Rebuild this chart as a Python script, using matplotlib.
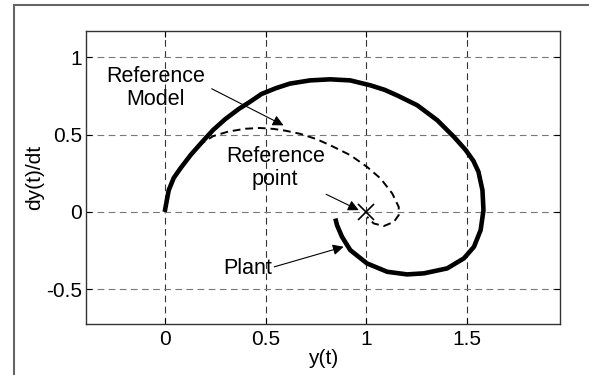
import matplotlib
matplotlib.use("Agg")
import matplotlib.pyplot as plt
from matplotlib.patches import Rectangle

plt.rcParams['font.family'] = ['Liberation Sans', 'DejaVu Sans']

# Plant trajectory (thick solid line)
plant_x = [0.0, 0.01, 0.02, 0.045, 0.08, 0.13, 0.184, 0.24, 0.30, 0.366, 0.42,
           0.48, 0.55, 0.62, 0.72, 0.82, 0.92, 1.02, 1.09, 1.152, 1.252, 1.351,
           1.434, 1.492, 1.53, 1.555, 1.575, 1.58, 1.566, 1.533, 1.483, 1.40,
           1.285, 1.202, 1.103, 1.003, 0.92, 0.879, 0.854, 0.846]
plant_y = [0.0, 0.07, 0.14, 0.22, 0.285, 0.37, 0.45, 0.53, 0.60, 0.665, 0.71,
           0.763, 0.80, 0.83, 0.851, 0.858, 0.851, 0.819, 0.79, 0.754, 0.69, 0.593,
           0.485, 0.40, 0.33, 0.26, 0.14, 0.011, -0.118, -0.226, -0.301, -0.366,
           -0.398, -0.405, -0.388, -0.334, -0.248, -0.162, -0.086, -0.043]

# Reference model trajectory (dashed line)
ref_x = [0.0, 0.01, 0.02, 0.045, 0.08, 0.13, 0.18, 0.24, 0.316, 0.40, 0.47,
         0.54, 0.60, 0.672, 0.75, 0.821, 0.92, 1.003, 1.07, 1.128, 1.16, 1.16,
         1.136, 1.086, 1.036, 1.003]
ref_y = [0.0, 0.07, 0.14, 0.22, 0.285, 0.37, 0.44, 0.49, 0.52, 0.538, 0.543,
         0.537, 0.525, 0.505, 0.472, 0.431, 0.367, 0.291, 0.216, 0.119, 0.032, -0.021,
         -0.065, -0.092, -0.075, -0.032]

ref_point = (1.0, 0.0)

xticks = [0, 0.5, 1, 1.5]
yticks = [-0.5, 0, 0.5, 1]
xtick_labels = ['0', '0.5', '1', '1.5']
ytick_labels = ['-0.5', '0', '0.5', '1']

fig = plt.figure(figsize=(5.89, 3.75), dpi=100)
ax = fig.add_axes([0.146, 0.136, 0.805, 0.781])

# outer frame of the original figure (cropped on right and bottom)
fig.patches.append(Rectangle((14 / 589, -0.05), 1.2, (375 - 5) / 375 + 0.05,
                             transform=fig.transFigure, fill=False,
                             edgecolor='#666666', linewidth=1.5))

ax.plot(ref_x, ref_y, color='black', linewidth=1.4, linestyle=(0, (4, 2.5)))
ax.plot(plant_x, plant_y, color='black', linewidth=3.3,
        solid_capstyle='butt', solid_joinstyle='round')
ax.plot(*ref_point, marker='x', color='black', markersize=11, markeredgewidth=1.2)

ax.set_xlim(-0.39, 1.96)
ax.set_ylim(-0.726, 1.17)
ax.set_xticks(xticks)
ax.set_xticklabels(xtick_labels)
ax.set_yticks(yticks)
ax.set_yticklabels(ytick_labels)
ax.tick_params(direction='in', length=4, top=True, right=True, labelsize=15)
ax.tick_params(axis='x', pad=4)
ax.tick_params(axis='y', pad=3)

ax.xaxis.grid(True, color='#333333', linestyle=(0, (6, 4)), linewidth=0.8)
ax.yaxis.grid(True, color='#777777', linestyle=(0, (6, 4)), linewidth=0.8)
for s in ax.spines.values():
    s.set_color('#333333')
    s.set_linewidth(1.0)

ax.set_xlabel('y(t)', fontsize=15, labelpad=0)
ax.set_ylabel('dy(t)/dt', fontsize=15, labelpad=1)

# annotations: text and arrows
arrow = dict(arrowstyle='-|>', color='black', linewidth=0.8, mutation_scale=16,
             shrinkA=0, shrinkB=0)
ax.text(-0.045, 0.803, 'Reference\nModel', ha='center', va='center',
        fontsize=15.5, linespacing=1.15)
ax.annotate('', xy=(0.589, 0.56), xytext=(0.233, 0.797), arrowprops=arrow)
ax.text(0.548, 0.282, 'Reference\npoint', ha='center', va='center',
        fontsize=15.5, linespacing=1.15)
ax.annotate('', xy=(0.962, 0.011), xytext=(0.80, 0.114), arrowprops=arrow)
ax.text(0.41, -0.366, 'Plant', ha='center', va='center', fontsize=15.5)
ax.annotate('', xy=(0.887, -0.226), xytext=(0.543, -0.356), arrowprops=arrow)

fig.savefig('out.png', dpi=100)
